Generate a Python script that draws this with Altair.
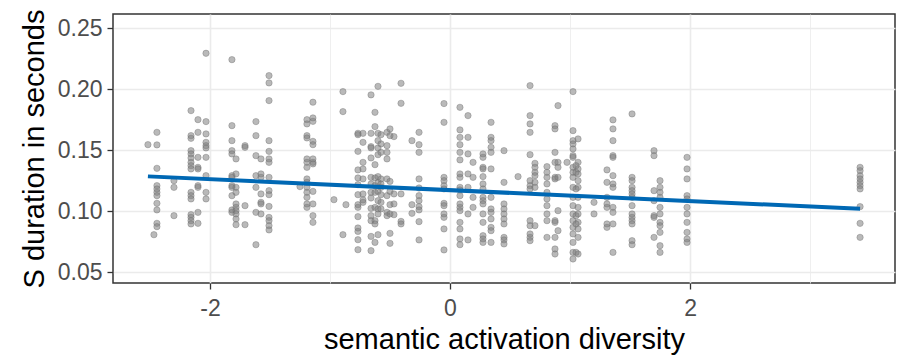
import altair as alt
import pandas as pd

# x position (semantic activation diversity) of each column of points
x_positions = [
    -2.517, -2.442, -2.467, -2.300, -2.158, -2.100, -2.033, -1.817, -1.783, -1.708,
    -1.617, -1.575, -1.508, -1.250, -1.192, -1.142, -0.967, -0.892, -0.867, -0.767,
    -0.725, -0.658, -0.625, -0.600, -0.575, -0.525, -0.500, -0.467, -0.408, -0.317,
    -0.258, -0.050, 0.083, 0.150, 0.192, 0.275, 0.342, 0.450, 0.567, 0.667,
    0.708, 0.808, 0.875, 0.900, 0.975, 1.025, 1.067, 1.050, 1.200, 1.308,
    1.358, 1.517, 1.700, 1.750, 1.975, 3.417,
]

# S durations (seconds) of the points in each column
y_groups = [
    [0.1546],
    [0.1647, 0.1544, 0.1352, 0.1210, 0.1183, 0.1155, 0.1128, 0.1065, 0.1011, 0.0901, 0.0874],
    [0.0808],
    [0.1251, 0.1196, 0.0964],
    [0.1825, 0.1620, 0.1598, 0.1497, 0.1470, 0.1437, 0.1401, 0.1374, 0.1347, 0.1155, 0.1128, 0.1101, 0.0972, 0.0950, 0.0923, 0.0896],
    [0.1751, 0.1647, 0.1442, 0.1360, 0.1347, 0.1210, 0.1196, 0.0991, 0.0901],
    [0.2295, 0.1735, 0.1634, 0.1565, 0.1538, 0.1519, 0.1442, 0.1292, 0.1155, 0.1101],
    [0.2243, 0.1702, 0.1579, 0.1497, 0.1470, 0.1292, 0.1278, 0.1210, 0.1196, 0.1128, 0.1011, 0.0991],
    [0.1429, 0.1306, 0.1196, 0.1155, 0.1060, 0.1032, 0.1005, 0.0978, 0.0937, 0.0890],
    [0.1538, 0.1524, 0.1046, 0.0890],
    [0.1735, 0.1620, 0.1456, 0.1292, 0.1196, 0.0991, 0.0726],
    [0.1429, 0.1306, 0.1278, 0.1142, 0.1073, 0.1060, 0.0978],
    [0.2112, 0.2052, 0.1907, 0.1579, 0.1491, 0.1429, 0.1401, 0.1278, 0.1169, 0.1136, 0.1040, 0.0950, 0.0923, 0.0882, 0.0847],
    [0.1202],
    [0.1751, 0.1716, 0.1620, 0.1601, 0.1429, 0.1401, 0.1360, 0.1265, 0.1237, 0.1196, 0.1155, 0.1114, 0.1060, 0.1032],
    [0.1894, 0.1765, 0.1737, 0.1573, 0.1546, 0.1429, 0.1401, 0.1388, 0.1163, 0.1060, 0.0964, 0.0909],
    [0.1095],
    [0.1981, 0.1817, 0.0808],
    [0.1054],
    [0.1639, 0.1628, 0.1491, 0.1339, 0.1273, 0.1218, 0.1136, 0.1054, 0.1032, 0.0956, 0.0863, 0.0835, 0.0767, 0.0685],
    [0.1639, 0.1565, 0.1401, 0.1347, 0.1265, 0.1142, 0.1093, 0.1073],
    [0.1954, 0.1639, 0.1530, 0.1519, 0.1437, 0.1278, 0.1224, 0.1155, 0.1109, 0.1024, 0.0964, 0.0923, 0.0794, 0.0677],
    [0.1811, 0.1694, 0.1382, 0.1273, 0.1210, 0.1155, 0.1032, 0.0923, 0.0896, 0.0745],
    [0.2024, 0.1639, 0.1579, 0.1519, 0.1464, 0.1284, 0.1237, 0.1163, 0.1087, 0.1019, 0.0978, 0.0808],
    [0.1628, 0.1552, 0.1483, 0.1265, 0.1224, 0.1196, 0.1136, 0.1073, 0.1019],
    [0.1647, 0.1538, 0.1483, 0.1429, 0.1265, 0.1128, 0.0991, 0.0964],
    [0.1675, 0.1620, 0.1245, 0.1163, 0.1054, 0.0978, 0.0819, 0.0737],
    [0.1612, 0.1142, 0.1060, 0.0972],
    [0.2049, 0.1885, 0.1142, 0.0917, 0.0896],
    [0.1579, 0.1054, 0.0983],
    [0.1647, 0.1546, 0.1483, 0.1265, 0.1191, 0.1128, 0.1087, 0.1038, 0.1011, 0.0915, 0.0765],
    [0.1883, 0.1729, 0.1278, 0.1251, 0.1210, 0.1183, 0.1065, 0.1046, 0.0978, 0.0950, 0.0855, 0.0683],
    [0.1852, 0.1667, 0.1606, 0.1546, 0.1483, 0.1421, 0.1306, 0.1278, 0.1196, 0.1175, 0.1128, 0.1060, 0.1032, 0.1005, 0.0909, 0.0855, 0.0773, 0.0726],
    [0.1784, 0.1606, 0.1470, 0.1306, 0.1196, 0.0978, 0.0765],
    [0.1401, 0.1278, 0.1114, 0.1032],
    [0.1470, 0.1442, 0.1360, 0.1347, 0.1284, 0.1224, 0.1183, 0.1114, 0.1087, 0.1060, 0.0978, 0.0909, 0.0800, 0.0773, 0.0745],
    [0.1729, 0.1606, 0.1579, 0.1524, 0.1483, 0.1347, 0.1114, 0.1019, 0.0991, 0.0937, 0.0868, 0.0841, 0.0745],
    [0.1497, 0.1237, 0.1060, 0.1019, 0.0978, 0.0937, 0.0896, 0.0786, 0.0765, 0.0732],
    [0.1284],
    [0.2030, 0.1784, 0.1716, 0.1647, 0.1464, 0.1251, 0.1210, 0.1183, 0.0923, 0.0882, 0.0814, 0.0786, 0.0759],
    [0.1393, 0.1360, 0.1319, 0.1292, 0.1237, 0.1196, 0.0882],
    [0.1366, 0.1319, 0.1278, 0.1224, 0.1155, 0.1101, 0.1046, 0.0978, 0.0923, 0.0786],
    [0.1702, 0.1675, 0.1483, 0.1401, 0.1278, 0.1265, 0.0923, 0.0909, 0.0786, 0.0691, 0.0650],
    [0.1866, 0.1401, 0.1360, 0.1278, 0.1005, 0.0841],
    [0.1401],
    [0.1981, 0.1661, 0.1579, 0.1552, 0.1511, 0.1456, 0.1442, 0.1360, 0.1319, 0.1278, 0.1196, 0.1114, 0.1046, 0.0978, 0.0923, 0.0868, 0.0814, 0.0745, 0.0663, 0.0609],
    [0.1593, 0.1401, 0.1347, 0.1306, 0.1251, 0.1196, 0.1114, 0.1032, 0.0978, 0.0909, 0.0855, 0.0786, 0.0650],
    [0.1374, 0.1319, 0.1183, 0.0964, 0.0896, 0.0663],
    [0.1073, 0.0978],
    [0.1339, 0.1237, 0.1114, 0.1060, 0.1032, 0.0896, 0.0868],
    [0.1749, 0.1675, 0.1579, 0.1456, 0.1442, 0.1292, 0.1224, 0.1196, 0.1032, 0.0991, 0.0896, 0.0663],
    [0.1798, 0.1278, 0.1251, 0.1196, 0.1169, 0.1142, 0.1114, 0.1046, 0.0978, 0.0950, 0.0923, 0.0896, 0.0759, 0.0726],
    [0.1497, 0.1456, 0.1169, 0.1087, 0.0964, 0.0950, 0.0786],
    [0.1251, 0.1196, 0.1155, 0.1114, 0.1032, 0.0978, 0.0909, 0.0882, 0.0827, 0.0718, 0.0663],
    [0.1442, 0.1347, 0.1265, 0.1128, 0.1101, 0.1032, 0.0978, 0.0909, 0.0827, 0.0773, 0.0745],
    [0.1360, 0.1333, 0.1292, 0.1265, 0.1237, 0.1210, 0.1183, 0.1038, 0.0901, 0.0786],
]

# fitted linear trend, read at the two ends of the reference line
fit_x = [-2.517, 3.417]
fit_y = [0.1286, 0.1020]

x_ticks = [-2, -1, 0, 1, 2, 3]
y_ticks = [0.05, 0.075, 0.10, 0.125, 0.15, 0.175, 0.20, 0.225, 0.25]

rows = []
for xv, ys in zip(x_positions, y_groups):
    for yv in ys:
        rows.append({"x": xv, "y": yv})
df = pd.DataFrame(rows)
fit_df = pd.DataFrame({"x": fit_x, "y": fit_y})

FONT = "Liberation Sans"
major_x = "abs(datum.value % 2) < 0.001"
major_y = "abs(round(datum.value * 20) - datum.value * 20) < 0.001"

x_enc = alt.X(
    "x:Q",
    scale=alt.Scale(domain=[-2.808, 3.708], nice=False, zero=False),
    axis=alt.Axis(
        title="semantic activation diversity",
        values=x_ticks,
        labelExpr=f"{major_x} ? (datum.value < 0 ? '-' + abs(datum.value) : '' + datum.value) : ''",
        gridColor="#EBEBEB",
        gridWidth={"condition": {"test": major_x, "value": 1.6}, "value": 0.8},
        tickColor="#333333",
        tickWidth=1.3,
        tickSize=6,
        tickOpacity={"condition": {"test": major_x, "value": 1}, "value": 0},
        domain=False,
        labelFont=FONT,
        labelFontSize=23,
        labelColor="#4D4D4D",
        labelPadding=8,
        titleFont=FONT,
        titleFontSize=29,
        titleFontWeight="normal",
        titleColor="#000000",
        titlePadding=5,
    ),
)
y_enc = alt.Y(
    "y:Q",
    scale=alt.Scale(domain=[0.0412, 0.2617], nice=False, zero=False),
    axis=alt.Axis(
        title="S duration in seconds",
        values=y_ticks,
        labelExpr=f"{major_y} ? format(datum.value, '.2f') : ''",
        gridColor="#EBEBEB",
        gridWidth={"condition": {"test": major_y, "value": 1.6}, "value": 0.8},
        tickColor="#333333",
        tickWidth=1.3,
        tickSize=6,
        tickOpacity={"condition": {"test": major_y, "value": 1}, "value": 0},
        domain=False,
        labelFont=FONT,
        labelFontSize=23,
        labelColor="#4D4D4D",
        labelPadding=5,
        titleFont=FONT,
        titleFontSize=29,
        titleFontWeight="normal",
        titleColor="#000000",
        titlePadding=8,
    ),
)

points = alt.Chart(df).mark_circle(
    size=40,
    fill="#808080",
    fillOpacity=0.55,
    stroke="#707070",
    strokeOpacity=0.5,
    strokeWidth=0.8,
).encode(x=x_enc, y=y_enc)

line = alt.Chart(fit_df).mark_line(
    color="#0068B4", strokeWidth=4
).encode(x="x:Q", y="y:Q")

chart = (
    alt.layer(points, line)
    .properties(
        width=782,
        height=269,
        padding={"left": 113, "top": 14, "right": 4, "bottom": 76},
        autosize=alt.AutoSizeParams(type="none"),
        background="white",
    )
    .configure_view(stroke="#333333", strokeWidth=1.5)
)

chart.save("out.html", embed_options={"renderer": "svg", "actions": False})
